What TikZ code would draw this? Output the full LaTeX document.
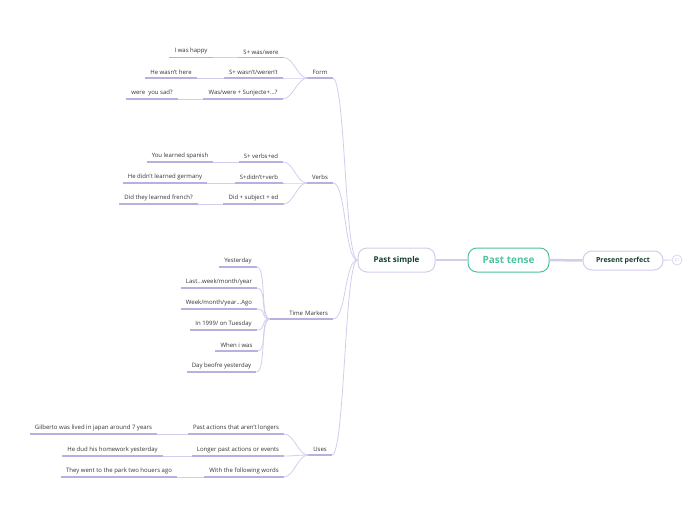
\documentclass[tikz,border=0pt]{standalone}
\usepackage{fontspec}
\setmainfont{Open Sans}
\usetikzlibrary{positioning}

\definecolor{lilac}{HTML}{D3CDEC}
\definecolor{lilacline}{HTML}{B9B0E0}
\definecolor{mint}{HTML}{4FC2A0}
\definecolor{pine}{HTML}{173F2E}

\begin{document}
\begin{tikzpicture}[x=1pt, y=-1pt,
  uline/.style={draw=lilacline, line width=1.1pt},
  link/.style={draw=lilac, line width=0.8pt},
  leaf/.style={font=\fontsize{6}{7}\selectfont, text=black!80,
    inner xsep=5pt, inner ysep=3pt, anchor=south,
    append after command={(\tikzlastnode.south west) edge[uline] (\tikzlastnode.south east)}},
  hub/.style={draw=lilac, line width=1pt, rounded corners=9pt, fill=white,
    font=\bfseries, text=pine, minimum height=24pt},
]
\useasboundingbox (0,0) rectangle (696,520);

%=== центр ===
\node[hub, draw=mint, text=mint, minimum width=81pt,
  font=\bfseries\fontsize{10}{12}\selectfont] (tense) at (508.5,260) {Past tense};
\node[hub, minimum width=77pt, font=\bfseries\fontsize{8}{10}\selectfont]
  (simple) at (396.5,260) {Past simple};
\node[hub, minimum width=80pt, minimum height=19pt,
  font=\bfseries\fontsize{7}{9}\selectfont] (perfect) at (623,260.5) {Present perfect};
\node[circle, draw=lilac, line width=0.6pt, inner sep=0pt, minimum size=10pt,
  text=lilacline, font=\fontsize{4}{4}\selectfont] (more) at (677,260) {21};

\draw[lilac, line width=2.5pt] (simple) -- (tense);
\draw[lilac, line width=2.5pt] (tense) -- (perfect);
\draw[lilac, line width=0.8pt] (perfect) -- (more);

%=== ветки ===
\node[leaf] (form) at (320,78) {Form};
\node[leaf] (verbs) at (320,183) {Verbs};
\node[leaf, text width=53pt, align=right] (markers) at (301.5,319) {Time Markers};
\node[leaf] (uses) at (320,455) {Uses};

\foreach \b in {form,verbs,markers,uses}
  \draw[link] (simple.west) .. controls +(-13,0) and +(13,0) .. (\b.south east);

%=== Form ===
\node[leaf] (f1) at (261,57.5) {S+ was/were};
\node[leaf] (f2) at (253.5,78) {S+ wasn't/weren't};
\node[leaf] (f3) at (243,99) {Was/were + Sunjecte+...?};
\node[leaf] (f1a) at (191,57.5) {I was happy};
\node[leaf] (f2a) at (171,78) {He wasn't here};
\node[leaf] (f3a) at (152,99) {were\ \ you sad?};

%=== Verbs ===
\node[leaf] (v1) at (261,162) {S+ verbs+ed};
\node[leaf] (v2) at (259,183) {S+didn't+verb};
\node[leaf] (v3) at (253.5,204) {Did + subject + ed};
\node[leaf] (v1a) at (180,162) {You learned spanish};
\node[leaf] (v2a) at (165,183) {He didn't learned germany};
\node[leaf] (v3a) at (158.5,204) {Did they learned french?};

%=== Time Markers ===
\node[leaf] (t1) at (238,267) {Yesterday};
\node[leaf] (t2) at (219,288) {Last...week/month/year};
\node[leaf] (t3) at (219,309) {Week/month/year...Ago};
\node[leaf] (t4) at (223.5,330) {In 1999/ on Tuesday};
\node[leaf] (t5) at (236.5,351) {When i was};
\node[leaf] (t6) at (221.5,372) {Day beofre yesterday};

%=== Uses ===
\node[leaf] (u1) at (236,434) {Past actions that aren't longers};
\node[leaf] (u2) at (238,456) {Longer past actions or events};
\node[leaf] (u3) at (244,477) {With the following words};
\node[leaf] (u1a) at (93.5,434) {Gilberto was lived in japan around 7 years};
\node[leaf] (u2a) at (112.5,456) {He dud his homework yesterday};
\node[leaf] (u3a) at (119,477) {They went to the park two houers ago};

% связи
\foreach \c/\p in {f1/form,f2/form,f3/form,v1/verbs,v2/verbs,v3/verbs,
    t1/markers,t2/markers,t3/markers,t4/markers,t5/markers,t6/markers,
    u1/uses,u2/uses,u3/uses}
  \draw[link] (\c.south east) .. controls +(10,0) and +(-10,0) .. (\p.south west);
\foreach \c/\p in {f1a/f1,f2a/f2,f3a/f3,v1a/v1,v2a/v2,v3a/v3,u1a/u1,u2a/u2,u3a/u3}
  \draw[link] (\c.south east) -- (\p.south west);

\end{tikzpicture}
\end{document}
